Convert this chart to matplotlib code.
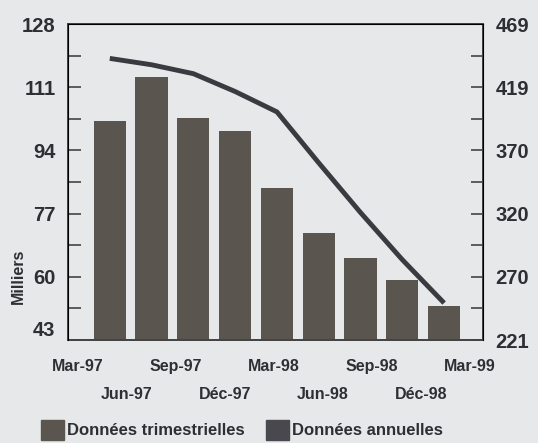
import numpy as np
import matplotlib
matplotlib.use('Agg')
import matplotlib.pyplot as plt
from matplotlib.patches import Patch
from matplotlib.ticker import FixedLocator

# data
quarters = ['Mar-97', 'Jun-97', 'Sep-97', 'Déc-97', 'Mar-98',
            'Jun-98', 'Sep-98', 'Déc-98', 'Mar-99']
trimestrielles = [102.0, 113.8, 102.6, 99.3, 83.8, 71.7, 65.0, 59.1, 52.2]
annuelles = [442, 437, 430, 416, 400, 360, 321, 284, 250]
left_ticks = [43, 60, 77, 94, 111, 128]
left_labels = ['43', '60', '77', '94', '111', '128']
right_labels = ['221', '270', '320', '370', '419', '469']

bg = '#e6e8ea'
bar_col = '#5b554f'
line_col = '#3a3b41'
ink = '#2e2e33'

plt.rcParams['font.family'] = ['Liberation Sans', 'DejaVu Sans']
plt.rcParams['font.weight'] = 'bold'

fig = plt.figure(figsize=(5.38, 4.43), dpi=100, facecolor=bg)
ax = fig.add_axes([68/538, 1-340/443, (483-68)/538, (340-24)/443])
ax.set_facecolor(bg)

x = np.arange(1, len(trimestrielles)+1)
ax.bar(x, trimestrielles, width=0.77, color=bar_col, zorder=2)
ax.set_xlim(0, 9.93)
ax.set_ylim(43, 128)
ax.yaxis.set_major_locator(FixedLocator(left_ticks))
ax.set_yticklabels(left_labels, fontsize=14.5, fontweight='bold', color=ink)
ax.yaxis.set_minor_locator(FixedLocator([t + 8.5 for t in left_ticks[:-1]]))
ax.tick_params(axis='y', which='both', direction='in', length=9, width=1.2,
               color='#444444', pad=9)
ax.set_xticks([])
# bottom label sits a little above the axis line
ax.get_yticklabels()[0].set_va('bottom')

for s in ax.spines.values():
    s.set_color('#444444')
    s.set_linewidth(1.3)

ax2 = ax.twinx()
ax2.plot(x, annuelles, color=line_col, lw=3.5, solid_capstyle='butt', zorder=3)
ax2.set_ylim(221, 469)
rt = np.linspace(221, 469, 6)
ax2.yaxis.set_major_locator(FixedLocator(rt))
ax2.set_yticklabels(right_labels, fontsize=14.5, fontweight='bold', color=ink)
ax2.yaxis.set_minor_locator(FixedLocator((rt[:-1] + rt[1:]) / 2))
ax2.tick_params(axis='y', which='both', direction='in', length=9, width=1.2,
                color='#444444', pad=9)
for s in ax2.spines.values():
    s.set_color('#444444')
    s.set_linewidth(1.3)

# date labels on their own scale, in two staggered rows
ax3 = ax.twiny()
ax3.xaxis.set_ticks_position('bottom')
ax3.spines['bottom'].set_visible(False)
ax3.set_xlim(-10/49, 405/49)
ax3.set_xticks(np.arange(len(quarters)))
ax3.set_xticklabels(quarters, fontsize=11.5, fontweight='bold', color=ink)
ax3.tick_params(axis='x', length=0)
for i, t in enumerate(ax3.xaxis.get_major_ticks()):
    t.set_pad(14 if i % 2 == 0 else 34)

fig.text(18/538, 1-276/443, 'Milliers', rotation=90, ha='center', va='center',
         fontsize=11.5, fontweight='bold', color=ink)

handles = [Patch(color=bar_col), Patch(color='#48484e')]
fig.legend(handles, ['Données trimestrielles', 'Données annuelles'], ncol=2,
           loc='lower left', bbox_to_anchor=(26/538, -0.026), frameon=False,
           handlelength=1.4, handleheight=1.45, handletextpad=0.15,
           columnspacing=1.3, prop={'size': 12, 'weight': 'bold'},
           labelcolor=ink)

fig.savefig('out.png', dpi=100, facecolor=bg)
